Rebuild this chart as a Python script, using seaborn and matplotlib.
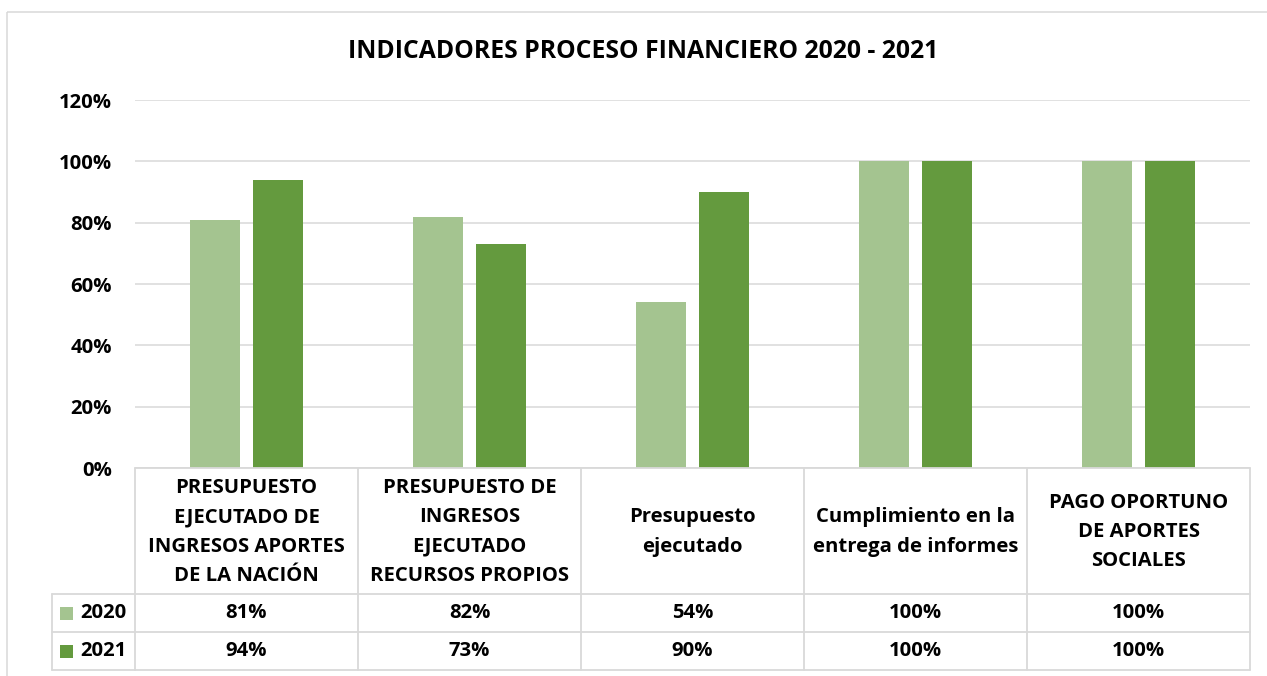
import numpy as np
import pandas as pd
import seaborn as sns
import matplotlib
matplotlib.use("Agg")
import matplotlib.pyplot as plt
from matplotlib.transforms import Affine2D, blended_transform_factory
from matplotlib.lines import Line2D
from matplotlib.patches import Rectangle

# ---------------- data ----------------
title = "INDICADORES PROCESO FINANCIERO 2020 - 2021"
categories = [
    "PRESUPUESTO\nEJECUTADO DE\nINGRESOS APORTES\nDE LA NACIÓN",
    "PRESUPUESTO DE\nINGRESOS\nEJECUTADO\nRECURSOS PROPIOS",
    "Presupuesto\nejecutado",
    "Cumplimiento en la\nentrega de informes",
    "PAGO OPORTUNO\nDE APORTES\nSOCIALES",
]
years = ["2020", "2021"]
values_2020 = [0.81, 0.82, 0.54, 1.00, 1.00]
values_2021 = [0.94, 0.73, 0.90, 1.00, 1.00]
ytick_values = [0.0, 0.2, 0.4, 0.6, 0.8, 1.0, 1.2]
colors = ["#A4C490", "#649A3E"]

# ---------------- setup ----------------
W, H = 1267, 676
sns.set_theme(style="white")
FONT = ["Open Sans", "DejaVu Sans"]
plt.rcParams["font.family"] = FONT
plt.rcParams["font.weight"] = "bold"
FS = 14.6
FS_T = 17.8

df = pd.DataFrame({
    "cat": categories * 2,
    "year": [years[0]] * len(categories) + [years[1]] * len(categories),
    "val": values_2020 + values_2021,
})

fig = plt.figure(figsize=(W / 100, H / 100), dpi=100)
fig.patch.set_facecolor("white")

def fx(x):
    return x / W

def fy(y):
    return 1 - y / H

left, right, top, bottom = 135, 1250, 100, 468
ax = fig.add_axes([fx(left), fy(bottom), fx(right - left), (bottom - top) / H])

sns.barplot(data=df, x="cat", y="val", hue="year", order=categories,
            hue_order=years, palette=colors, saturation=1, width=0.565, gap=0.206,
            linewidth=0, legend=False, ax=ax)

ax.set_xlim(-0.5, len(categories) - 0.5)
ax.set_ylim(0, 1.2)
ax.set_yticks(ytick_values)
ax.set_yticklabels([f"{int(round(v * 100))}%" for v in ytick_values],
                   fontsize=FS, fontweight="bold", color="#000000")
ax.tick_params(axis="y", length=0, pad=16.5)
ax.set_xticks([])
ax.set_xlabel("")
ax.set_ylabel("")
for s in ax.spines.values():
    s.set_visible(False)
ax.yaxis.grid(True, color="#D9D9D9", linewidth=1.1)
ax.set_axisbelow(True)

# ---------------- title ----------------
fig.text(fx(643), fy(51), title, ha="center", va="center",
         fontsize=FS_T, fontweight="bold", color="#000000")

# ---------------- chart border ----------------
pix = Affine2D().scale(1 / W, -1 / H).translate(0, 1) + fig.transFigure
fig.add_artist(Rectangle((7, 12), 1300, 700, transform=pix, fill=False,
                         edgecolor="#D9D9D9", linewidth=1.1))

# ---------------- data table ----------------
grid_c = "#D9D9D9"
lw = 1.3
bt = blended_transform_factory(ax.transData, pix)
n = len(categories)
row_head = (468, 594)
row_2020 = (594, 632)
row_2021 = (632, 670)
leg_left = 52

fig.add_artist(Line2D([-0.5, n - 0.5], [468, 468], transform=bt, color=grid_c, lw=lw))
for yy in [594, 632, 670]:
    fig.add_artist(Line2D([leg_left, left], [yy, yy], transform=pix, color=grid_c, lw=lw))
    fig.add_artist(Line2D([-0.5, n - 0.5], [yy, yy], transform=bt, color=grid_c, lw=lw))
for i in range(n + 1):
    fig.add_artist(Line2D([i - 0.5, i - 0.5], [468, 670], transform=bt, color=grid_c, lw=lw))
fig.add_artist(Line2D([leg_left, leg_left], [594, 670], transform=pix, color=grid_c, lw=lw))

for i, c in enumerate(categories):
    fig.text(i, (row_head[0] + row_head[1]) / 2 + 1, c, transform=bt,
             ha="center", va="center", fontsize=FS, fontweight="bold",
             linespacing=1.63, color="#000000")

for vals, (y0, y1), col, yr in [(values_2020, row_2020, colors[0], years[0]),
                                (values_2021, row_2021, colors[1], years[1])]:
    yc = (y0 + y1) / 2
    for i, v in enumerate(vals):
        fig.text(i, yc, f"{int(round(v * 100))}%", transform=bt, ha="center",
                 va="center", fontsize=FS, fontweight="bold", color="#000000")
    fig.add_artist(Rectangle((60, yc - 6.5), 13, 13, transform=pix,
                             facecolor=col, edgecolor="none"))
    fig.text(80, yc, yr, transform=pix, ha="left", va="center",
             fontsize=FS, fontweight="bold", color="#000000")

fig.savefig("out.png", dpi=100, facecolor="white")
